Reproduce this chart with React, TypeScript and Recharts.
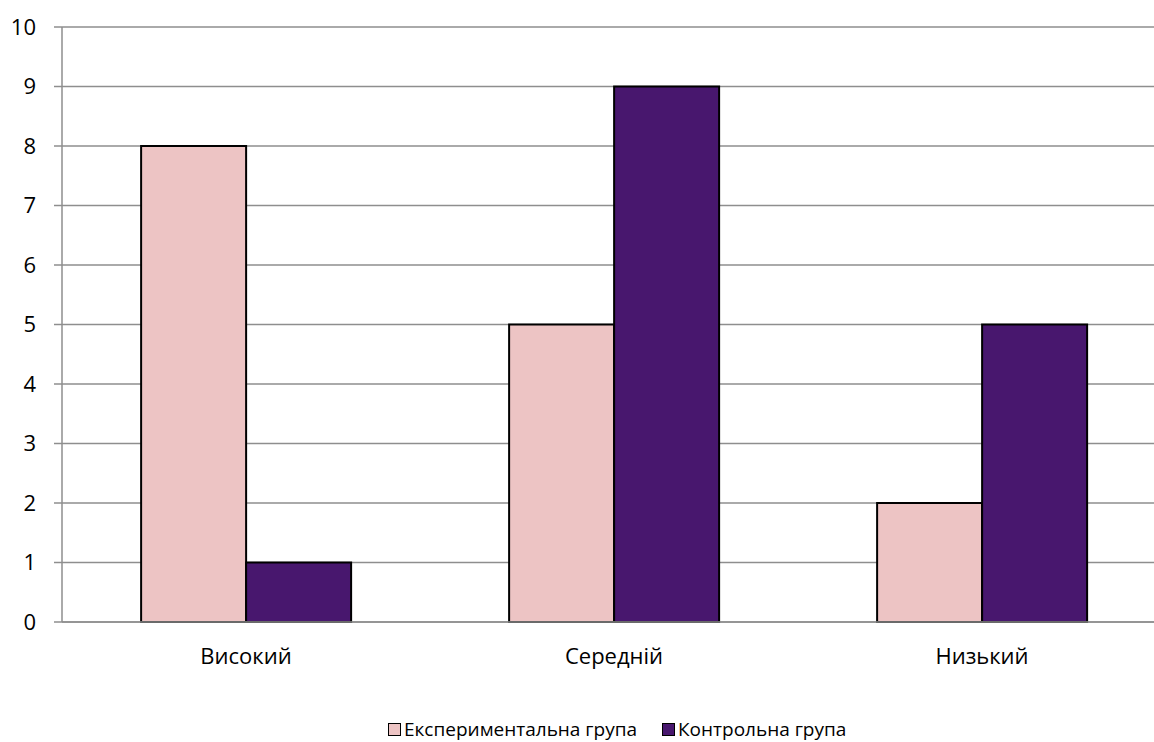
import { Bar, BarChart, CartesianGrid, XAxis, YAxis } from "recharts";

const categories = ["Високий", "Середній", "Низький"];
const experimental = [8, 5, 2];
const control = [1, 9, 5];
const yTicks = [0, 1, 2, 3, 4, 5, 6, 7, 8, 9, 10];
const boundaryTicks = [0, 1, 2, 3];
const seriesNames = ["Експериментальна група", "Контрольна група"];

const PINK = "#edc4c4";
const PURPLE = "#48176e";
const GRID = "#8e8e8e";
const FONT = "'Open Sans', 'Noto Sans', sans-serif";

const data = categories.map((name, i) => ({
  name,
  exp: experimental[i],
  ctrl: control[i],
}));

export default function App() {
  return (
    <div
      style={{
        position: "absolute",
        top: 0,
        left: 0,
        width: 1154,
        height: 742,
        overflow: "hidden",
        background: "#fff",
        fontFamily: FONT,
      }}
    >
      <BarChart
        width={1166}
        height={742}
        data={data}
        margin={{ top: 27, right: 0, left: 0, bottom: 70 }}
        barCategoryGap="21.5%"
        barGap={0}
      >
        <CartesianGrid vertical={false} stroke={GRID} strokeWidth={1.5} />
        <XAxis
          xAxisId="marks"
          type="number"
          domain={[0, 3]}
          ticks={boundaryTicks}
          height={0}
          tickSize={8}
          tickFormatter={() => ""}
          axisLine={false}
          stroke={GRID}
          tickLine={{ stroke: GRID, strokeWidth: 1.5 }}
        />
        <XAxis
          dataKey="name"
          height={50}
          tickSize={0}
          tickMargin={26}
          axisLine={{ stroke: GRID, strokeWidth: 1.5 }}
          tickLine={false}
          tick={{ fill: "#000", fontSize: 22, fontFamily: FONT }}
        />
        <YAxis
          width={62}
          domain={[0, 10]}
          ticks={yTicks}
          interval={0}
          tickSize={8}
          tickMargin={18}
          axisLine={{ stroke: GRID, strokeWidth: 1.5 }}
          tickLine={{ stroke: GRID, strokeWidth: 1.5 }}
          tick={{ fill: "#000", fontSize: 22, fontFamily: FONT }}
        />
        <Bar
          dataKey="exp"
          name={seriesNames[0]}
          fill={PINK}
          stroke="#000"
          strokeWidth={2}
          isAnimationActive={false}
        />
        <Bar
          dataKey="ctrl"
          name={seriesNames[1]}
          fill={PURPLE}
          stroke="#000"
          strokeWidth={2}
          isAnimationActive={false}
        />
      </BarChart>
      <div
        style={{
          position: "absolute",
          top: 716,
          left: 388,
          height: 26,
          display: "flex",
          alignItems: "center",
          gap: 25,
          fontSize: 19,
          lineHeight: "26px",
          color: "#000",
          whiteSpace: "nowrap",
        }}
      >
        {seriesNames.map((n, i) => (
          <div key={n} style={{ display: "flex", alignItems: "center" }}>
            <span
              style={{
                display: "inline-block",
                width: 11,
                height: 11,
                border: "1.5px solid #000",
                background: i === 0 ? PINK : PURPLE,
                marginRight: 3,
              }}
            />
            <span>{n}</span>
          </div>
        ))}
      </div>
    </div>
  );
}
